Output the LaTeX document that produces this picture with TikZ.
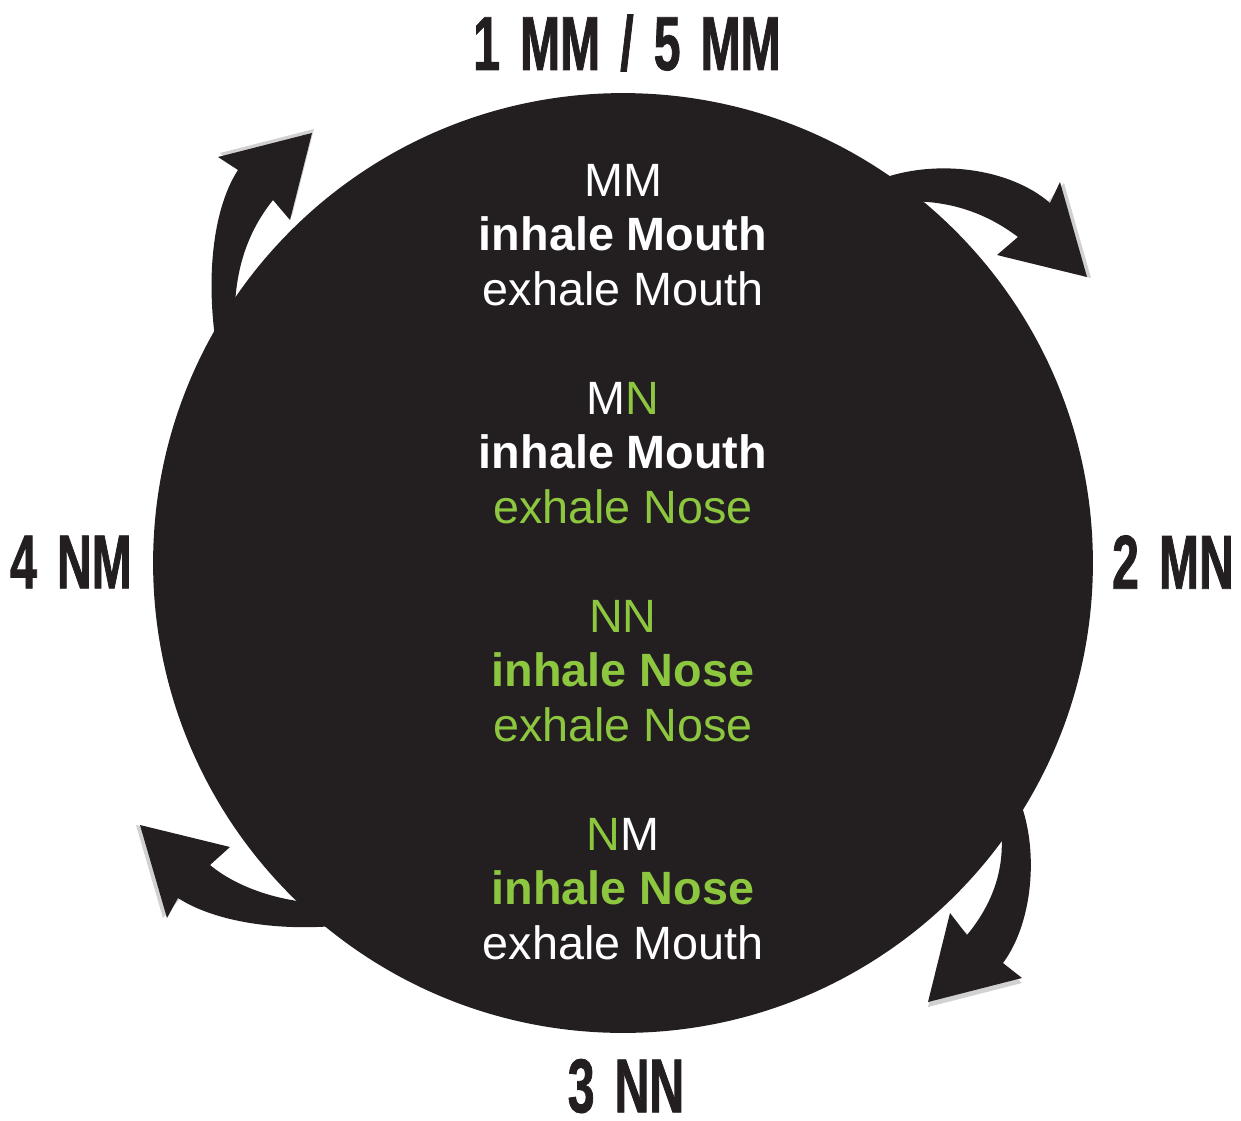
\documentclass[tikz,border=0pt]{standalone}
\usepackage{fontspec}
\setmainfont{Liberation Sans}
\newfontfamily\stagefont[FakeStretch=0.63,FakeBold=1,WordSpace=1.5]{Liberation Sans}
\usetikzlibrary{positioning}
\definecolor{disc}{HTML}{231F20}
\definecolor{leaf}{HTML}{8DC63F}
\newcommand{\gr}[1]{\textcolor{leaf}{#1}}

\begin{document}
\begin{tikzpicture}[x=0.02cm,y=-0.02cm,node distance=4.36cm]
  \tikzstyle{breath}=[text=white,align=center,font=\fontsize{26.6}{30.9}\selectfont]
  \tikzstyle{stage}=[text=disc,inner sep=0pt,font=\stagefont\bfseries\fontsize{43.5}{44}\selectfont]
  \tikzstyle{turn}=[fill=disc]
  \tikzstyle{shade}=[fill=black!18]
  \useasboundingbox (0,0) rectangle (1241,1120);

  \fill[shade] (1064,183) -- (1091,278) -- (1001,256) -- cycle;
  \fill[shade] (220,153) -- (314,129) -- (292,216) -- cycle;
  \fill[shade] (1022,983) -- (928,1007) -- (950,918) -- cycle;
  \fill[shade] (136,825) -- (226,847) -- (163,918) -- cycle;

  \fill[turn] (878,180) .. controls (935,158) and (1010,168) .. (1050,203)
    -- (1060,182) -- (1087,277) -- (997,255) -- (1018,237)
    .. controls (985,212) and (945,198) .. (895,202) -- cycle;
  \fill[turn] (216,345) .. controls (205,270) and (215,205) .. (238,170)
    -- (218,157) -- (312,133) -- (290,220) -- (273,200)
    .. controls (245,235) and (230,280) .. (236,345) -- cycle;
  \fill[turn] (1015,790) .. controls (1040,840) and (1035,920) .. (1003,963)
    -- (1022,978) -- (928,1002) -- (950,913) -- (967,935)
    .. controls (1000,895) and (1010,850) .. (995,800) -- cycle;
  \fill[turn] (345,925) .. controls (280,932) and (215,922) .. (178,898)
    -- (167,918) -- (140,825) -- (230,847) -- (210,865)
    .. controls (240,890) and (290,905) .. (335,903) -- cycle;

  \node[circle,fill=disc,inner sep=0pt,minimum size=18.8cm] (disc) at (623,563) {};

  \node[breath] (mm) at (623,235) {MM\\\textbf{inhale Mouth}\\exhale Mouth};
  \node[breath] (mn) [below of=mm] {M\gr{N}\\\textbf{inhale Mouth}\\\gr{exhale Nose}};
  \node[breath] (nn) [below of=mn] {\gr{NN}\\\gr{\textbf{inhale Nose}}\\\gr{exhale Nose}};
  \node[breath] (nm) [below of=nn] {\gr{N}M\\\gr{\textbf{inhale Nose}}\\exhale Mouth};

  \node[stage] (one) at (627,43) {1 MM / 5 MM};
  \node[stage] (two) at (1173,562) {2 MN};
  \node[stage] (three) at (626,1086) {3 NN};
  \node[stage] (four) at (71,562) {4 NM};
\end{tikzpicture}
\end{document}
